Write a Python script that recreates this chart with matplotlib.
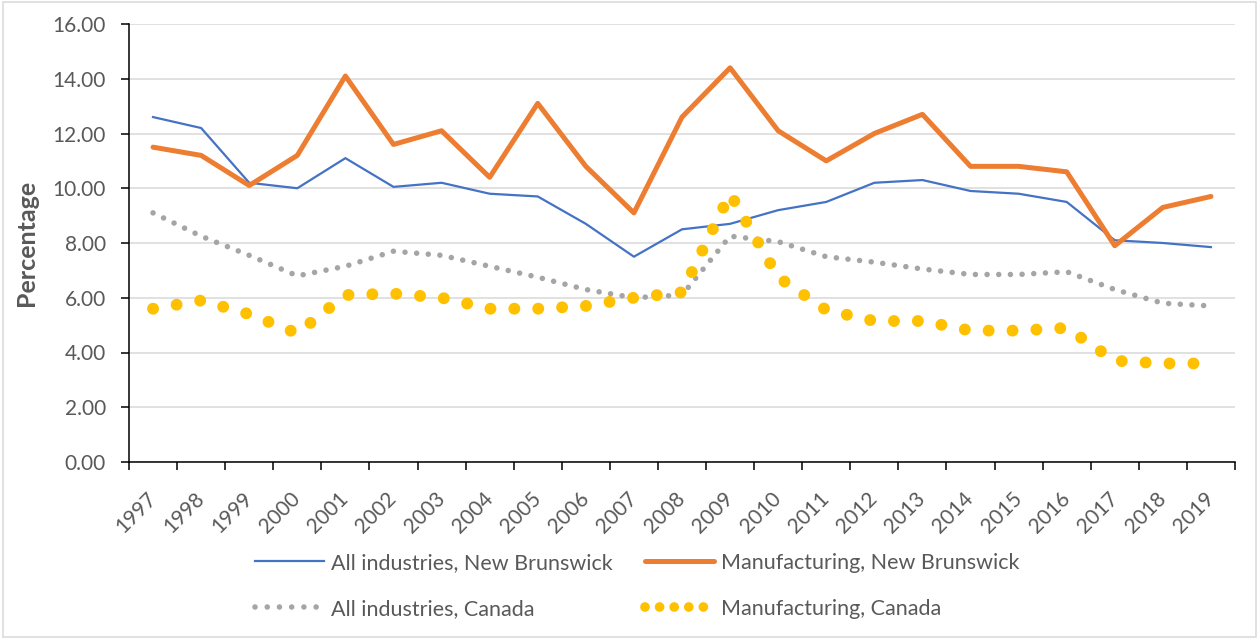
import numpy as np
import matplotlib.pyplot as plt
from matplotlib.lines import Line2D
from matplotlib.patches import Rectangle

# --------------------------------
# Data (percent)
# --------------------------------
years = [str(y) for y in range(1997, 2020)]

all_nb = [12.6, 12.2, 10.2, 10.0, 11.1, 10.05, 10.2, 9.8, 9.7, 8.7, 7.5, 8.5,
          8.7, 9.2, 9.5, 10.2, 10.3, 9.9, 9.8, 9.5, 8.1, 8.0, 7.85]
manuf_nb = [11.5, 11.2, 10.1, 11.2, 14.1, 11.6, 12.1, 10.4, 13.1, 10.8, 9.1, 12.6,
            14.4, 12.1, 11.0, 12.0, 12.7, 10.8, 10.8, 10.6, 7.9, 9.3, 9.7]
all_ca = [9.1, 8.25, 7.55, 6.8, 7.15, 7.7, 7.55, 7.15, 6.75, 6.3, 6.0, 6.1,
          8.25, 8.05, 7.5, 7.3, 7.05, 6.85, 6.85, 6.95, 6.3, 5.8, 5.7]
manuf_ca = [5.6, 5.9, 5.4, 4.7, 6.1, 6.15, 6.0, 5.6, 5.6, 5.7, 6.0, 6.2,
            9.8, 6.75, 5.55, 5.15, 5.15, 4.8, 4.8, 4.9, 3.7, 3.6, 3.6]

labels = ["All industries, New Brunswick", "Manufacturing, New Brunswick",
          "All industries, Canada", "Manufacturing, Canada"]

blue = "#4472C4"
orange = "#ED7D31"
gray = "#A5A5A5"
yellow = "#FFC000"
text_col = "#595959"

plt.rcParams['font.family'] = ['Lato', 'DejaVu Sans']

fig = plt.figure(figsize=(12.59, 6.39), dpi=100)
ax = fig.add_axes([129/1259, 1 - 462/639, 1106/1259, 438/639])

x = np.arange(len(years))

dot_gray = (0, (0.001, 2.1))
dot_yellow = (0, (0.001, 2.0))

ax.plot(x, all_nb, color=blue, lw=1.6, solid_joinstyle='round', zorder=3)
ax.plot(x, manuf_nb, color=orange, lw=3.6, solid_joinstyle='round',
        solid_capstyle='round', zorder=4)
ax.plot(x, all_ca, color=gray, lw=4, linestyle=dot_gray,
        dash_capstyle='round', zorder=5)
ax.plot(x, manuf_ca, color=yellow, lw=8.6, linestyle=dot_yellow,
        dash_capstyle='round', zorder=6)

# axes
ax.set_xlim(-0.5, len(years) - 0.5)
ax.set_ylim(0, 16)
ax.set_yticks(np.arange(0, 17, 2))
ax.set_yticklabels([f"{v:.2f}" for v in np.arange(0, 17, 2)])
ax.set_xticks(x)
ax.set_xticklabels(years, rotation=45, ha='right', va='center',
                   rotation_mode='anchor')
ax.set_xticks(np.arange(-0.5, len(years), 1), minor=True)

ax.tick_params(axis='x', which='major', length=0, pad=24,
               labelsize=15, labelcolor=text_col)
ax.tick_params(axis='x', which='minor', length=5.5, width=1.1,
               direction='out', color='black')
ax.tick_params(axis='y', length=5.5, width=1.1, direction='out',
               color='black', pad=11, labelsize=15, labelcolor=text_col)

for s in ['top', 'right']:
    ax.spines[s].set_visible(False)
for s in ['left', 'bottom']:
    ax.spines[s].set_linewidth(1.1)
    ax.spines[s].set_color('black')

ax.yaxis.grid(True, color='#D9D9D9', lw=1.1)
ax.set_axisbelow(True)

ax.set_ylabel("Percentage", fontsize=18, fontweight='bold', color=text_col)
ax.yaxis.set_label_coords(-0.082, 0.5)

# legend (column-wise fill -> row 1: NB series, row 2: Canada series)
handles = [
    Line2D([], [], color=blue, lw=1.6),
    Line2D([], [], color=gray, lw=4, linestyle=(0, (0.001, 2.2)),
           dash_capstyle='round'),
    Line2D([], [], color=orange, lw=3.6, solid_capstyle='round'),
    Line2D([], [], color=yellow, lw=7, linestyle=(0, (0.001, 1.5)),
           dash_capstyle='round'),
]
leg_labels = [labels[0], labels[2], labels[1], labels[3]]
fig.legend(handles, leg_labels, loc='upper left',
           bbox_to_anchor=(255/1259, 1 - 553/639), ncol=2, frameon=False,
           fontsize=15.5, labelcolor=text_col, handlelength=3.2,
           handletextpad=0.34, columnspacing=1.5, labelspacing=1.2,
           borderpad=0, borderaxespad=0)

# chart border
fig.patches.append(Rectangle((3/1259, 2/639), 1253/1259, 635/639,
                             transform=fig.transFigure, fill=False,
                             edgecolor='#D9D9D9', lw=1.1))

fig.savefig("out.png", dpi=100)
